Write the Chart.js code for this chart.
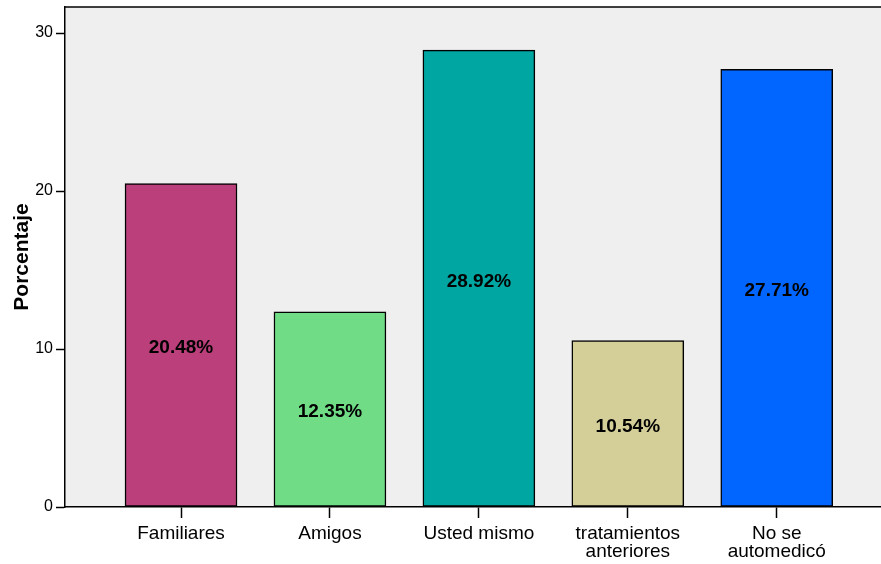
<!DOCTYPE html>
<html>
<head>
<meta charset="utf-8">
<script src="https://cdn.jsdelivr.net/npm/chart.js@4.4.0/dist/chart.umd.min.js"></script>
<style>
  html, body { margin: 0; padding: 0; background: #fff; }
  #wrap { width: 881px; height: 564px; }
</style>
</head>
<body>
<div id="wrap"><canvas id="c"></canvas></div>
<script>
// origen de la automedicación
const categories = [['Familiares'], ['Amigos'], ['Usted mismo'], ['tratamientos', 'anteriores'], ['No se', 'automedicó']];
const positions = [1, 2, 3, 4, 5];
const percents = [20.48, 12.35, 28.92, 10.54, 27.71];
const barColors = ['#BA3F7A', '#70DC86', '#00A6A1', '#D4CF99', '#0066FF'];
const yTicks = [0, 10, 20, 30];

const FONT = '"Liberation Sans", Arial, sans-serif';

// fondo gris del área de trazado + borde superior
const plotFrame = {
  id: 'plotFrame',
  beforeDraw(chart) {
    const { ctx, chartArea: a } = chart;
    ctx.save();
    ctx.fillStyle = '#EFEFEF';
    ctx.fillRect(a.left, a.top, a.right - a.left, a.bottom - a.top);
    ctx.strokeStyle = '#000';
    ctx.lineWidth = 1.5;
    ctx.beginPath();
    ctx.moveTo(a.left, a.top);
    ctx.lineTo(a.right, a.top);
    ctx.stroke();
    ctx.restore();
  }
};

// etiqueta del porcentaje en el centro de cada barra
const barLabels = {
  id: 'barLabels',
  afterDatasetsDraw(chart) {
    const { ctx } = chart;
    const meta = chart.getDatasetMeta(0);
    ctx.save();
    ctx.font = 'bold 19px ' + FONT;
    ctx.fillStyle = '#000';
    ctx.textAlign = 'center';
    ctx.textBaseline = 'middle';
    meta.data.forEach((bar, i) => {
      ctx.fillText(percents[i].toFixed(2) + '%', bar.x, (bar.y + bar.base) / 2 + 3);
    });
    ctx.restore();
  }
};

new Chart(document.getElementById('c'), {
  type: 'bar',
  data: {
    datasets: [{
      data: positions.map((x, i) => ({ x, y: percents[i] })),
      backgroundColor: barColors,
      borderColor: '#000',
      borderWidth: 1.5,
      borderSkipped: false,
      barThickness: 112,
    }]
  },
  options: {
    responsive: true,
    maintainAspectRatio: false,
    animation: false,
    layout: { padding: { top: 7, right: 0, left: 0, bottom: 0 } },
    plugins: { legend: { display: false }, tooltip: { enabled: false } },
    scales: {
      x: {
        type: 'linear',
        offset: false,
        min: 0.221,
        max: 5.70,
        afterBuildTicks(scale) { scale.ticks = positions.map(v => ({ value: v })); },
        afterFit(scale) {
          scale.height = 57;
          scale.paddingLeft = 0;
          scale.paddingRight = 0;
        },
        grid: { offset: false, drawOnChartArea: false, drawTicks: true, tickLength: 11, tickColor: '#000', tickWidth: 1.5 },
        border: { display: true, color: '#000', width: 1.5 },
        ticks: {
          color: '#000',
          padding: 7,
          maxRotation: 0,
          autoSkip: false,
          font: { family: FONT, size: 19, lineHeight: 0.95 },
          callback: (v) => categories[positions.indexOf(v)] || ''
        }
      },
      y: {
        min: 0,
        max: 31.65,
        afterBuildTicks(scale) { scale.ticks = yTicks.map(v => ({ value: v })); },
        afterFit(scale) {
          scale.width = 65;
          scale.paddingTop = 0;
          scale.paddingBottom = 0;
        },
        grid: { drawOnChartArea: false, drawTicks: true, tickLength: 9, tickColor: '#000', tickWidth: 1.5 },
        border: { display: true, color: '#000', width: 1.5 },
        title: {
          display: true,
          text: 'Porcentaje',
          color: '#000',
          font: { family: FONT, size: 21, weight: 'bold' },
          padding: { top: 10, bottom: 0 }
        },
        ticks: {
          color: '#000',
          padding: 3,
          font: { family: FONT, size: 16 }
        }
      }
    }
  },
  plugins: [plotFrame, barLabels]
});
</script>
</body>
</html>
